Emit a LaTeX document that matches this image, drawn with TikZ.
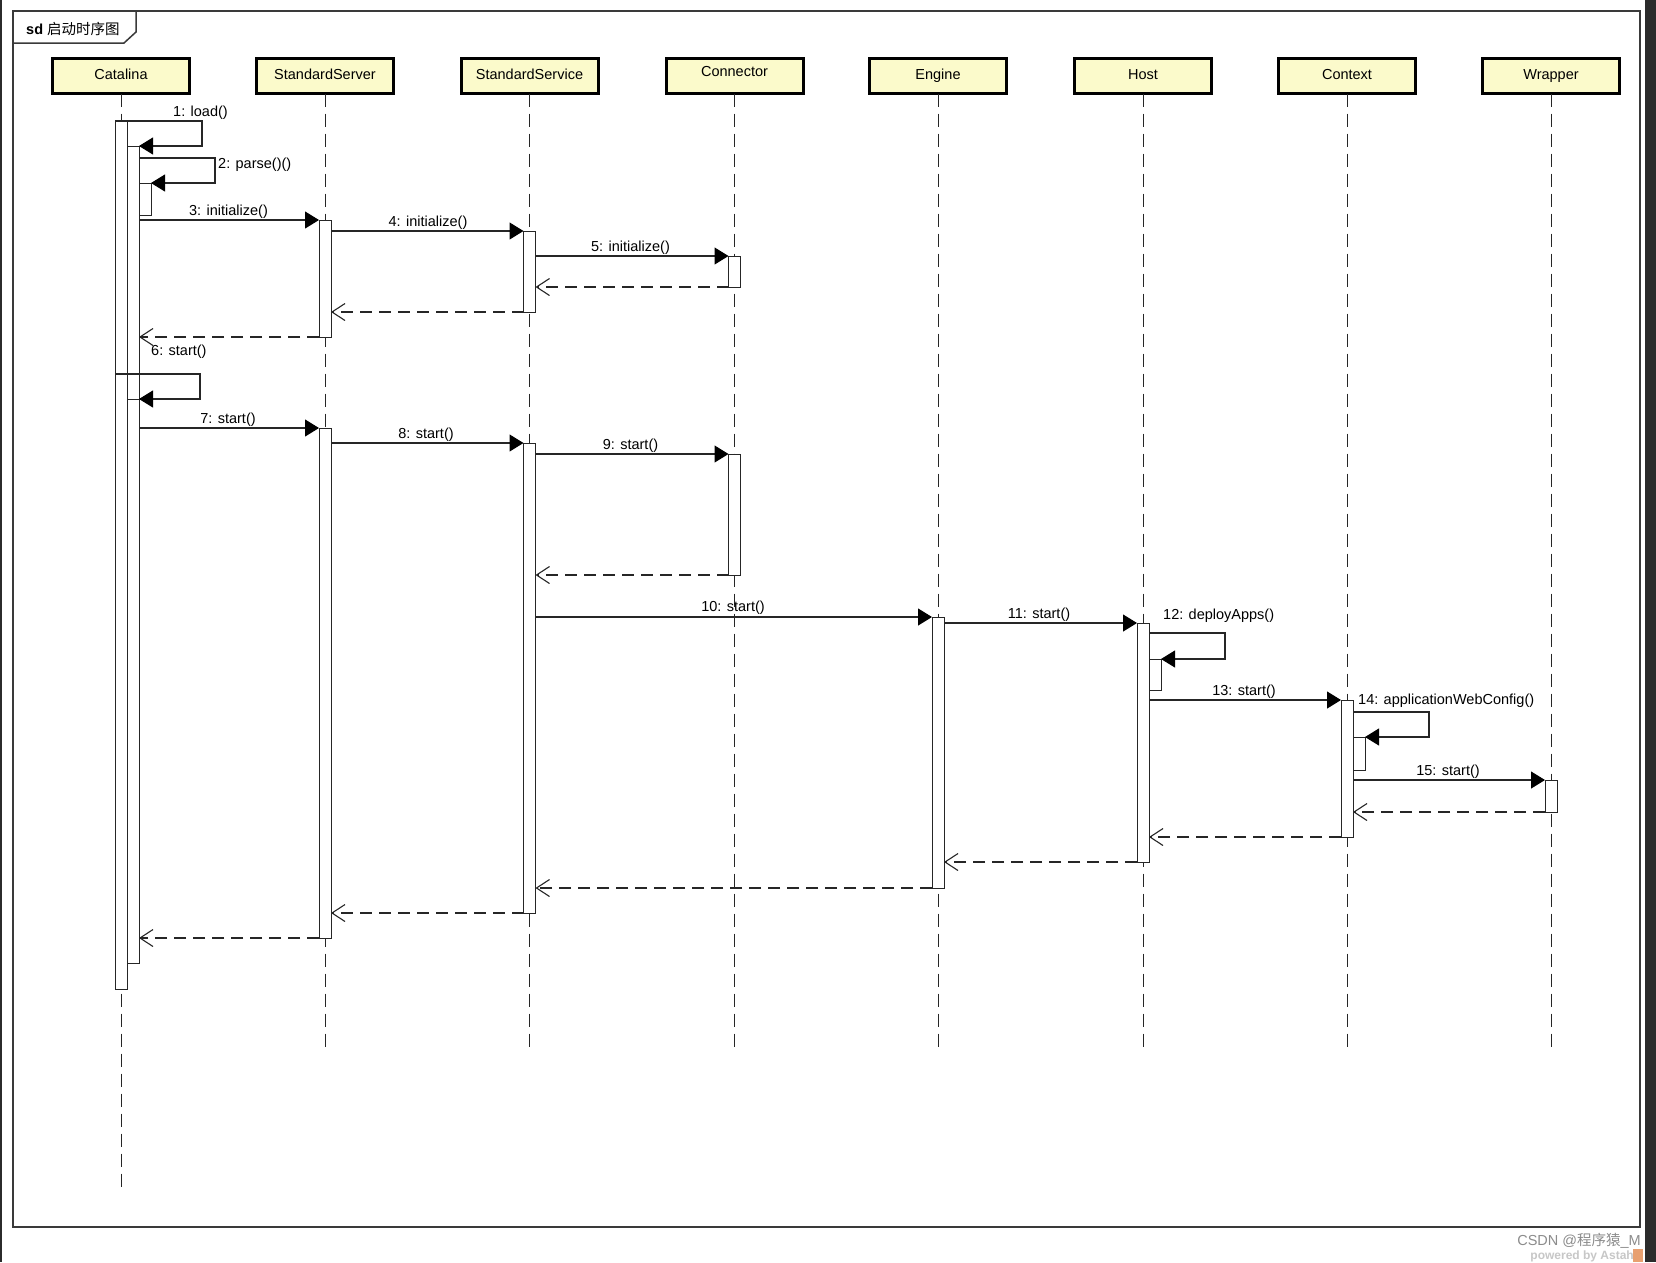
\documentclass[tikz,border=0pt]{standalone}
\usepackage{fontspec}
\setmainfont{Liberation Sans}
\newfontfamily\cjk{Noto Sans CJK SC}
\usetikzlibrary{arrows.meta}
\definecolor{boxyellow}{HTML}{FBFACB}
\definecolor{linegray}{HTML}{262626}
\definecolor{framegray}{HTML}{3A3A3A}
\definecolor{edgedark}{HTML}{2B2B2B}
\definecolor{logoorange}{HTML}{E8A070}
\newcommand\actbar[4]{\node[actbar, minimum height={(#4)-(#3)}] (#1) at (#2,{((#3)+(#4))/2}) {};}
\tikzset{
  lifebox/.style={draw=black, line width=3pt, fill=boxyellow, minimum width=137pt,
    minimum height=35pt, inner sep=0pt, outer sep=0pt,
    font=\fontsize{14.5}{17}\selectfont, text height=10.5pt, text depth=3pt},
  actbar/.style={draw=linegray, line width=1pt, fill=white, minimum width=12pt,
    inner sep=0pt, outer sep=0pt},
  lifeline/.style={draw=linegray, line width=1pt, dash pattern=on 13pt off 7pt},
  callmsg/.style={draw=linegray, line width=1.1pt,
    -{Triangle[length=14pt,width=17pt,color=black,fill=black]}},
  retmsg/.style={draw=linegray, line width=1.1pt, dash pattern=on 12pt off 7pt,
    -{Straight Barb[length=13pt,width=17pt]}},
  lbl/.style={font=\fontsize{14.5}{17}\selectfont, anchor=base, inner sep=0pt},
  framestyle/.style={draw=framegray, line width=1.5pt},
}
\begin{document}
\begin{tikzpicture}[x=1pt,y=-1pt]
\useasboundingbox (0,0) rectangle (1656,1262);
\fill[white] (0,0) rectangle (1656,1262);
\fill[edgedark] (0,0) rectangle (2,1262);
\fill[edgedark] (1645,0) rectangle (1656,1262);

% frame and tab
\draw[framestyle] (13,11) rectangle (1640,1227);
\draw[framestyle] (13,43) -- (124,43) -- (136,32) -- (136,11);
\node[anchor=base west, inner sep=0pt, font=\fontsize{14.5}{17}\selectfont] (title) at (26,34.5) {\textbf{sd} {\cjk 启动时序图}};

% lifeline heads
\node[lifebox] (catalina) at (121,76) {Catalina};
\node[lifebox] (server) at (325,76) {StandardServer};
\node[lifebox] (service) at (529.5,76) {StandardService};
\node[lifebox] (connector) at (734.5,76) {\raisebox{3pt}{Connector}};
\node[lifebox] (engine) at (938,76) {Engine};
\node[lifebox] (host) at (1143,76) {Host};
\node[lifebox] (context) at (1347,76) {Context};
\node[lifebox] (wrapper) at (1551,76) {Wrapper};

% lifelines
\coordinate (catEnd) at (121,1190);
\coordinate (srvEnd) at (325,1051);
\coordinate (svcEnd) at (529.5,1051);
\coordinate (conEnd) at (734.5,1051);
\coordinate (engEnd) at (938,1051);
\coordinate (hostEnd) at (1143,1051);
\coordinate (ctxEnd) at (1347,1051);
\coordinate (wrpEnd) at (1551,1051);
\draw[lifeline] (catalina.south) -- (catEnd);
\draw[lifeline] (server.south) -- (srvEnd);
\draw[lifeline] (service.south) -- (svcEnd);
\draw[lifeline] (connector.south) -- (conEnd);
\draw[lifeline] (engine.south) -- (engEnd);
\draw[lifeline] (host.south) -- (hostEnd);
\draw[lifeline] (context.south) -- (ctxEnd);
\draw[lifeline] (wrapper.south) -- (wrpEnd);

% activation bars
\actbar{cat0}{121}{121}{989}
\actbar{cat1}{133}{146}{963}
\actbar{cat2}{145}{183}{215}
\actbar{srvA}{325}{220}{337}
\actbar{svcA}{529.5}{231}{312}
\actbar{conA}{734.5}{256}{287}
\actbar{srvB}{325}{428}{938}
\actbar{svcB}{529.5}{443}{913}
\actbar{conB}{734.5}{454}{575}
\actbar{eng}{938}{617}{888}
\actbar{hostA}{1143}{623}{862}
\actbar{hostB}{1155}{659}{690}
\actbar{ctxA}{1347}{700}{837}
\actbar{ctxB}{1359}{737}{770}
\actbar{wrp}{1551}{780}{812}

% self-message corners
\coordinate (s1a) at (202,121);
\coordinate (s1b) at (202,146);
\coordinate (s2a) at (215,158);
\coordinate (s2b) at (215,183);
\coordinate (s6a) at (200,374);
\coordinate (s6b) at (200,399);
\coordinate (s12a) at (1225,633);
\coordinate (s12b) at (1225,659);
\coordinate (s14a) at (1429,712);
\coordinate (s14b) at (1429,737);

% messages
\draw[callmsg] (cat0.north west) -- (s1a) -- (s1b) -- (cat1.north east);
\draw[callmsg] (cat1.east |- s2a) -- (s2a) -- (s2b) -- (cat2.north east);
\draw[callmsg] (cat1.east |- srvA.north) -- (srvA.north west);
\draw[callmsg] (srvA.east |- svcA.north) -- (svcA.north west);
\draw[callmsg] (svcA.east |- conA.north) -- (conA.north west);
\draw[retmsg] (conA.south west) -- (svcA.east |- conA.south);
\draw[retmsg] (svcA.south west) -- (srvA.east |- svcA.south);
\draw[retmsg] (srvA.south west) -- (cat1.east |- srvA.south);
\draw[callmsg] (cat0.west |- s6a) -- (s6a) -- (s6b) -- (cat1.east |- s6b);
\draw[linegray, line width=1pt] (cat1.west |- s6b) -- (cat1.east |- s6b);
\draw[callmsg] (cat1.east |- srvB.north) -- (srvB.north west);
\draw[callmsg] (srvB.east |- svcB.north) -- (svcB.north west);
\draw[callmsg] (svcB.east |- conB.north) -- (conB.north west);
\draw[retmsg] (conB.south west) -- (svcB.east |- conB.south);
\draw[callmsg] (svcB.east |- eng.north) -- (eng.north west);
\draw[callmsg] (eng.east |- hostA.north) -- (hostA.north west);
\draw[callmsg] (hostA.east |- s12a) -- (s12a) -- (s12b) -- (hostB.north east);
\draw[callmsg] (hostA.east |- ctxA.north) -- (ctxA.north west);
\draw[callmsg] (ctxA.east |- s14a) -- (s14a) -- (s14b) -- (ctxB.north east);
\draw[callmsg] (ctxA.east |- wrp.north) -- (wrp.north west);
\draw[retmsg] (wrp.south west) -- (ctxA.east |- wrp.south);
\draw[retmsg] (ctxA.south west) -- (hostA.east |- ctxA.south);
\draw[retmsg] (hostA.south west) -- (eng.east |- hostA.south);
\draw[retmsg] (eng.south west) -- (svcB.east |- eng.south);
\draw[retmsg] (svcB.south west) -- (srvB.east |- svcB.south);
\draw[retmsg] (srvB.south west) -- (cat1.east |- srvB.south);

% labels
\node[lbl] (t1) at (200.5,116) {1: load()};
\node[lbl, anchor=base west] (t2) at (218,168) {2: parse()()};
\node[lbl] (t3) at (228.5,215) {3: initialize()};
\node[lbl] (t4) at (428,226) {4: initialize()};
\node[lbl] (t5) at (630.5,251) {5: initialize()};
\node[lbl, anchor=base west] (t6) at (151,355.5) {6: start()};
\node[lbl] (t7) at (228,423) {7: start()};
\node[lbl] (t8) at (426,438) {8: start()};
\node[lbl] (t9) at (630.5,449) {9: start()};
\node[lbl] (t10) at (733,611) {10: start()};
\node[lbl] (t11) at (1039,618) {11: start()};
\node[lbl, anchor=base west] (t12) at (1163,619.5) {12: deployApps()};
\node[lbl] (t13) at (1244,695.5) {13: start()};
\node[lbl, anchor=base west] (t14) at (1358,704) {14: applicationWebConfig()};
\node[lbl] (t15) at (1448,775) {15: start()};

% watermark
\fill[logoorange] (1633,1249) rectangle (1643,1262);
\node[anchor=base east, inner sep=0pt, text=black!22, font=\bfseries\fontsize{12}{14}\selectfont] (astah) at (1634,1259) {powered by Astah};
\node[anchor=base east, inner sep=0pt, text=black!45, font=\fontsize{14.5}{16}\selectfont] (csdn) at (1641,1245) {CSDN @{\cjk 程序猿}\_M};
\end{tikzpicture}
\end{document}
